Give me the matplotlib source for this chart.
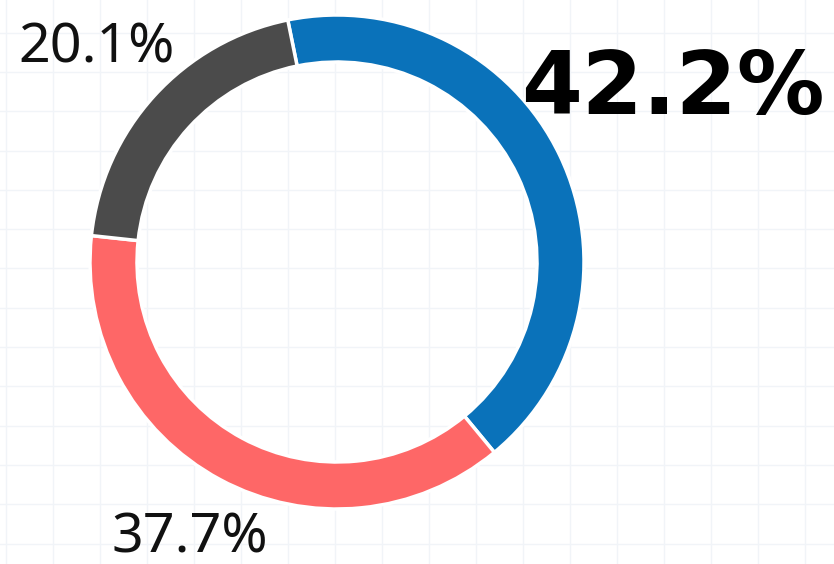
import matplotlib
matplotlib.use("Agg")
import matplotlib.pyplot as plt
import numpy as np

# Data
categories = ["Blue", "Red", "Gray"]
values = [42.2, 37.7, 20.1]
labels = ["42.2%", "37.7%", "20.1%"]
colors = ["#0a72ba", "#fe6767", "#4b4b4b"]

W, H = 834, 564
fig = plt.figure(figsize=(W / 100, H / 100), dpi=100)
ax = fig.add_axes([0, 0, 1, 1])

# faint background grid
for x in np.arange(6, W, 47.0):
    ax.axvline(x, color="#f1f4f8", lw=1.0, zorder=0)
for y in np.arange(H - 347 - 39.3 * 9, H, 39.3):
    ax.axhline(y, color="#f1f4f8", lw=1.0, zorder=0)

cx, cy, R = 337, H - 262, 247
wedges, _ = ax.pie(values, colors=colors, startangle=101.5, counterclock=False,
                   radius=R, center=(cx, cy), frame=False,
                   wedgeprops=dict(width=47, edgecolor="white", linewidth=2.5))
for w in wedges:
    w.set_zorder(2)

ax.set_xlim(0, W)
ax.set_ylim(0, H)
ax.set_aspect("equal")
ax.axis("off")

ax.text(673, H - 90, labels[0], fontsize=63, fontweight="bold", family="DejaVu Sans",
        ha="center", va="center", color="#000000", zorder=3)
ax.text(190, H - 538, labels[1], fontsize=40, fontweight="normal", family="Noto Sans",
        ha="center", va="center", color="#111111", zorder=3)
ax.text(97, H - 48, labels[2], fontsize=40, fontweight="normal", family="Noto Sans",
        ha="center", va="center", color="#111111", zorder=3)

fig.savefig("out.png", dpi=100, facecolor="white")
